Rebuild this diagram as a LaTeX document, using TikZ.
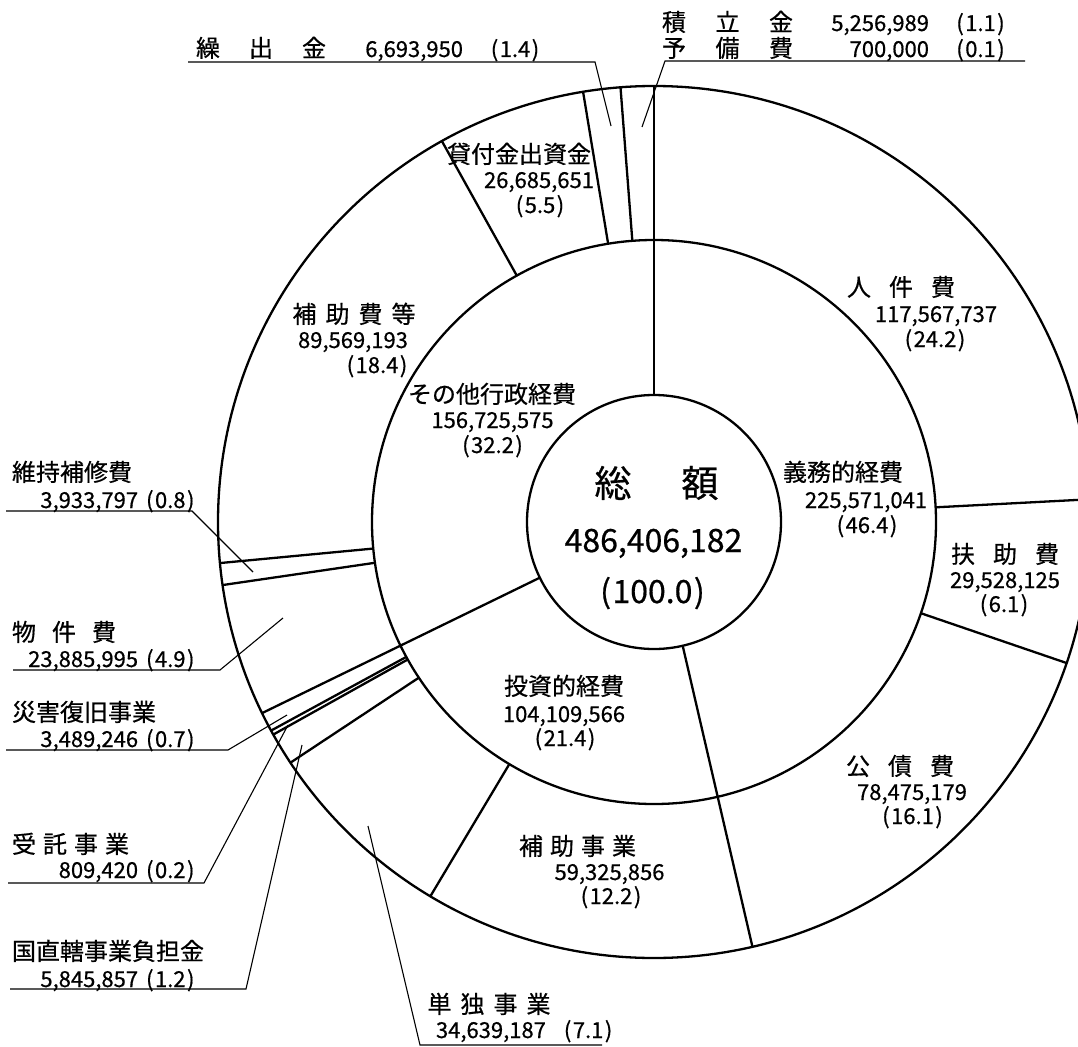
\documentclass[tikz,border=0pt]{standalone}
\usepackage{fontspec}
\setmainfont{Noto Sans CJK JP}[FakeBold=0.6]
\newcommand\gp[1]{\hspace{#1pt}}
\newcommand\pl[1]{(\kern1.5pt#1\kern1.5pt)}
\begin{document}
\begin{tikzpicture}[x=1pt,y=-1pt,
  ring/.style={line width=2.3pt, black},
  lead/.style={line width=1.1pt, black},
  jp/.style={font=\fontsize{24}{28}\selectfont, inner sep=0pt, outer sep=0pt},
  num/.style={font=\fontsize{22}{26}\selectfont, inner sep=0pt, outer sep=0pt},
  big/.style={font=\fontsize{37}{40}\selectfont, inner sep=0pt, outer sep=0pt},
  bignum/.style={font=\fontsize{32}{36}\selectfont, inner sep=0pt, outer sep=0pt}]
\useasboundingbox (0,0) rectangle (1078,1046);
\clip (0,0) rectangle (1078,1046);
\coordinate (C) at (654,522);
% rings
\draw[ring] (C) circle[radius=436];
\draw[ring] (C) circle[radius=282];
\draw[ring] (C) circle[radius=127];
% boundaries of the middle ring (inner to outer)
\foreach \a in {-90,76.952,154.006}
  \draw[ring] ([shift={(C)}]\a:127) -- ([shift={(C)}]\a:436);
% boundaries of the outer ring
\foreach \a in {-2.985,18.870,120.861,146.498,150.825,151.424,171.684,174.596,240.888,260.639,265.593}
  \draw[ring] ([shift={(C)}]\a:282) -- ([shift={(C)}]\a:436);

% center
\node[big,anchor=base] (sogaku) at (656.5,497) {総\gp{50}額};
\node[bignum,anchor=base] (sogakuv) at (653.5,552) {486,406,182};
\node[bignum,anchor=base] (sogakup) at (652.5,603) {\pl{100.0}};

% middle ring labels
\node[jp,anchor=base] (gimu) at (843,481) {義務的経費};
\node[num,anchor=base] (gimuv) at (866,508) {225,571,041};
\node[num,anchor=base] (gimup) at (867,533) {\pl{46.4}};
\node[jp,anchor=base] (toshi) at (564,695) {投資的経費};
\node[num,anchor=base] (toshiv) at (564,722) {104,109,566};
\node[num,anchor=base] (toship) at (565,746) {\pl{21.4}};
\node[jp,anchor=base] (sonota) at (492,403) {その他行政経費};
\node[num,anchor=base] (sonotav) at (492.5,428) {156,725,575};
\node[num,anchor=base] (sonotap) at (492.5,453) {\pl{32.2}};

% outer ring labels
\node[jp,anchor=base] (jinken) at (901,296) {人\gp{18}件\gp{18}費};
\node[num,anchor=base] (jinkenv) at (936,322) {117,567,737};
\node[num,anchor=base] (jinkenp) at (935,347) {\pl{24.2}};
\node[jp,anchor=base] (fujo) at (1005,563) {扶\gp{18}助\gp{18}費};
\node[num,anchor=base] (fujov) at (1005,588) {29,528,125};
\node[num,anchor=base] (fujop) at (1004,612) {\pl{6.1}};
\node[jp,anchor=base] (kosai) at (900,775) {公\gp{18}債\gp{18}費};
\node[num,anchor=base] (kosaiv) at (912,800) {78,475,179};
\node[num,anchor=base] (kosaip) at (912.5,824) {\pl{16.1}};
\node[jp,anchor=base] (hojoj) at (577.5,855) {補\gp{7}助\gp{7}事\gp{7}業};
\node[num,anchor=base] (hojojv) at (609.5,880) {59,325,856};
\node[num,anchor=base] (hojojp) at (611,904) {\pl{12.2}};
\node[jp,anchor=base] (hojohi) at (354,323) {補\gp{9}助\gp{9}費\gp{9}等};
\node[num,anchor=base] (hojohiv) at (353,348) {89,569,193};
\node[num,anchor=base] (hojohip) at (377,373) {\pl{18.4}};
\node[jp,anchor=base] (kashi) at (519,163) {貸付金出資金};
\node[num,anchor=base] (kashiv) at (539,188) {26,685,651};
\node[num,anchor=base] (kaship) at (540,213) {\pl{5.5}};

% top left label
\node[jp,anchor=base west] (kuri) at (196,57) {繰\gp{29}出\gp{29}金};
\node[num,anchor=base east] (kuriv) at (463,57) {6,693,950};
\node[num,anchor=base] (kurip) at (515,57) {\pl{1.4}};
\coordinate (kuriA) at (188,62);
\coordinate (kuriB) at (595,62);
\coordinate (kuriC) at (611,126);
\draw[lead] (kuriA) -- (kuriB) -- (kuriC);

% top right labels
\node[jp,anchor=base west] (tsumi) at (662,31) {積\gp{29.5}立\gp{29.5}金};
\node[num,anchor=base east] (tsumiv) at (929,31) {5,256,989};
\node[num,anchor=base] (tsumip) at (980.5,31) {\pl{1.1}};
\node[jp,anchor=base west] (yobi) at (662,57) {予\gp{29.5}備\gp{29.5}費};
\node[num,anchor=base east] (yobiv) at (929,57) {700,000};
\node[num,anchor=base] (yobip) at (980.5,57) {\pl{0.1}};
\coordinate (tsumiA) at (1025,61);
\coordinate (tsumiB) at (665,61);
\coordinate (tsumiC) at (642,127);
\draw[lead] (tsumiA) -- (tsumiB) -- (tsumiC);

% left labels
\node[jp,anchor=base west] (iji) at (12,481) {維持補修費};
\node[num,anchor=base east] (ijiv) at (194.5,508) {3,933,797\gp{8}\pl{0.8}};
\coordinate (ijiA) at (6,511);
\coordinate (ijiB) at (192,511);
\coordinate (ijiC) at (253,572);
\draw[lead] (ijiA) -- (ijiB) -- (ijiC);

\node[jp,anchor=base west] (bukken) at (12,641) {物\gp{16}件\gp{16}費};
\node[num,anchor=base east] (bukkenv) at (194.5,667) {23,885,995\gp{8}\pl{4.9}};
\coordinate (bukkenA) at (13,670);
\coordinate (bukkenB) at (220,670);
\coordinate (bukkenC) at (283,618);
\draw[lead] (bukkenA) -- (bukkenB) -- (bukkenC);

\node[jp,anchor=base west] (saigai) at (12,721) {災害復旧事業};
\node[num,anchor=base east] (saigaiv) at (194.5,747) {3,489,246\gp{8}\pl{0.7}};
\coordinate (saigaiA) at (6,750);
\coordinate (saigaiB) at (228,750);
\coordinate (saigaiC) at (287,715);
\draw[lead] (saigaiA) -- (saigaiB) -- (saigaiC);

\node[jp,anchor=base west] (jutaku) at (12,853) {受\gp{7}託\gp{7}事\gp{7}業};
\node[num,anchor=base east] (jutakuv) at (194.5,878) {809,420\gp{8}\pl{0.2}};
\coordinate (jutakuA) at (8,883);
\coordinate (jutakuB) at (204,883);
\coordinate (jutakuC) at (288,725);
\draw[lead] (jutakuA) -- (jutakuB) -- (jutakuC);

\node[jp,anchor=base west] (kuni) at (12,960) {国直轄事業負担金};
\node[num,anchor=base east] (kuniv) at (194.5,987) {5,845,857\gp{8}\pl{1.2}};
\coordinate (kuniA) at (10,989);
\coordinate (kuniB) at (246,989);
\coordinate (kuniC) at (302,745);
\draw[lead] (kuniA) -- (kuniB) -- (kuniC);

% bottom label
\node[jp,anchor=base] (tandoku) at (489,1013) {単\gp{9}独\gp{9}事\gp{9}業};
\node[num,anchor=base west] (tandokuv) at (436,1038) {34,639,187\gp{18}\pl{7.1}};
\coordinate (tanA) at (602,1045);
\coordinate (tanB) at (420,1045);
\coordinate (tanC) at (368,826);
\draw[lead] (tanA) -- (tanB) -- (tanC);
\end{tikzpicture}
\end{document}
